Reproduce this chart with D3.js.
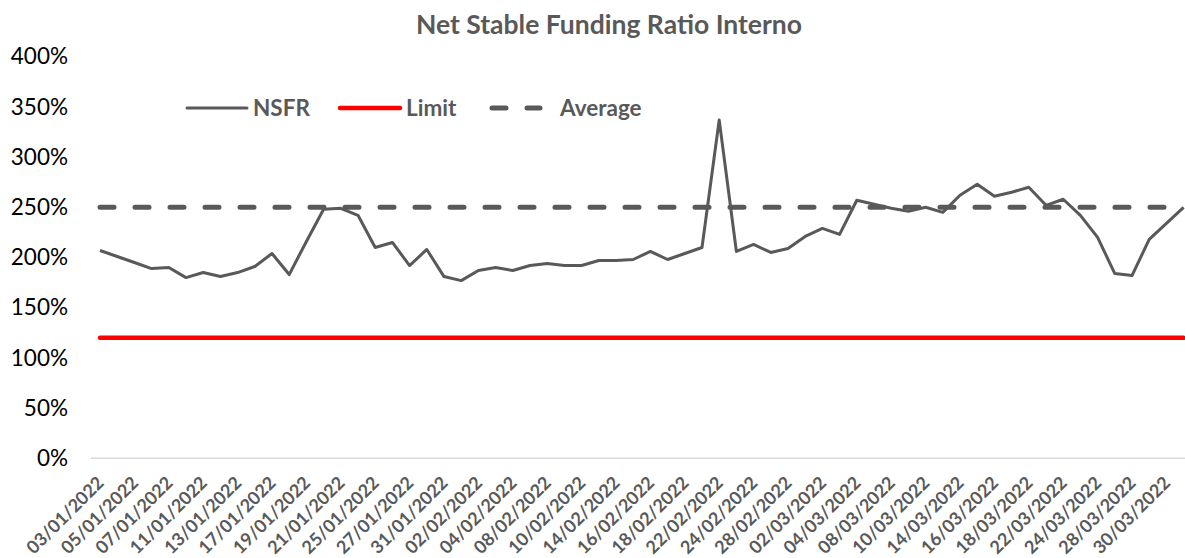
<!DOCTYPE html>
<html>
<head>
<meta charset="utf-8">
<script src="https://cdn.jsdelivr.net/npm/d3@7"></script>
<style>
  body { margin: 0; background: #fff; }
  svg { display: block; font-family: Lato, "Open Sans", sans-serif; }
</style>
</head>
<body>
<svg id="chart" width="1185" height="558"></svg>
<script>
var dates = [
  "03/01/2022", "04/01/2022", "05/01/2022", "06/01/2022", "07/01/2022", "10/01/2022",
  "11/01/2022", "12/01/2022", "13/01/2022", "14/01/2022", "17/01/2022", "18/01/2022",
  "19/01/2022", "20/01/2022", "21/01/2022", "24/01/2022", "25/01/2022", "26/01/2022",
  "27/01/2022", "28/01/2022", "31/01/2022", "01/02/2022", "02/02/2022", "03/02/2022",
  "04/02/2022", "07/02/2022", "08/02/2022", "09/02/2022", "10/02/2022", "11/02/2022",
  "14/02/2022", "15/02/2022", "16/02/2022", "17/02/2022", "18/02/2022", "21/02/2022",
  "22/02/2022", "23/02/2022", "24/02/2022", "25/02/2022", "28/02/2022", "01/03/2022",
  "02/03/2022", "03/03/2022", "04/03/2022", "07/03/2022", "08/03/2022", "09/03/2022",
  "10/03/2022", "11/03/2022", "14/03/2022", "15/03/2022", "16/03/2022", "17/03/2022",
  "18/03/2022", "21/03/2022", "22/03/2022", "23/03/2022", "24/03/2022", "25/03/2022",
  "28/03/2022", "29/03/2022", "30/03/2022", "31/03/2022"
];

// NSFR in %
var nsfr = [
  207, 201, 195, 189, 190, 180, 185, 181, 185, 191, 204, 183,
  216, 248, 249, 242, 210, 215, 192, 208, 181, 177, 187, 190,
  187, 192, 194, 192, 192, 197, 197, 198, 206, 198, 204, 210,
  337, 206, 213, 205, 209, 221, 229, 223, 257, 253, 249, 246,
  250, 245, 262, 273, 261, 265, 270, 252, 258, 242, 220, 184,
  182, 218, 234, 250
];
var limitValue = 120;
var averageValue = 250;

var yTicks = [0, 50, 100, 150, 200, 250, 300, 350, 400];

var svg = d3.select("#chart");
var grey = "#595959";

var x = d3.scalePoint().domain(dates).range([100, 1183.6]);
var y = d3.scaleLinear().domain([0, 400]).range([458.3, 56.7]);

// title
svg.append("text")
  .attr("x", 609)
  .attr("y", 34)
  .attr("text-anchor", "middle")
  .attr("font-size", 26.5)
  .attr("font-weight", "bold")
  .attr("fill", grey)
  .text("Net Stable Funding Ratio Interno");

// y axis labels
var yAxis = svg.append("g")
  .attr("transform", "translate(70,0)")
  .call(d3.axisLeft(y).tickValues(yTicks).tickSize(0).tickPadding(2)
    .tickFormat(function (d) { return d + "%"; }));
yAxis.select(".domain").remove();
yAxis.selectAll("text")
  .attr("font-family", "Lato, sans-serif")
  .attr("font-size", 22.5)
  .attr("fill", "#000");

// x axis line
svg.append("line")
  .attr("x1", 91).attr("x2", 1185)
  .attr("y1", y(0)).attr("y2", y(0))
  .attr("stroke", "#d9d9d9")
  .attr("stroke-width", 1.5);

// x labels, every other date
var labelDates = dates.filter(function (d, i) { return i % 2 === 0; });
svg.append("g").selectAll("text")
  .data(labelDates)
  .enter()
  .append("text")
  .attr("transform", function (d) { return "translate(" + (x(d) + 5) + ",484) rotate(-45)"; })
  .attr("text-anchor", "end")
  .attr("font-size", 18)
  .attr("font-weight", "bold")
  .attr("fill", grey)
  .text(function (d) { return d; });

// limit and average lines
var flat = function (v) {
  return d3.line()
    .x(function (d) { return x(d); })
    .y(function () { return y(v); });
};

svg.append("path")
  .datum(dates)
  .attr("d", flat(limitValue))
  .attr("fill", "none")
  .attr("stroke", "#ff0000")
  .attr("stroke-width", 4.5)
  .attr("stroke-linecap", "round");

svg.append("path")
  .datum(dates)
  .attr("d", flat(averageValue))
  .attr("fill", "none")
  .attr("stroke", grey)
  .attr("stroke-width", 5)
  .attr("stroke-linecap", "round")
  .attr("stroke-dasharray", "14,21");

// NSFR line
var line = d3.line()
  .x(function (d, i) { return x(dates[i]); })
  .y(function (d) { return y(d); });

svg.append("path")
  .datum(nsfr)
  .attr("d", line)
  .attr("fill", "none")
  .attr("stroke", grey)
  .attr("stroke-width", 3)
  .attr("stroke-linejoin", "round");

// legend
var legend = [
  { name: "NSFR", x: 185, color: grey, width: 3, dash: null },
  { name: "Limit", x: 338, color: "#ff0000", width: 4.5, dash: null },
  { name: "Average", x: 490, color: grey, width: 5, dash: "14,21" }
];
var items = svg.append("g").selectAll("g")
  .data(legend)
  .enter()
  .append("g")
  .attr("transform", function (d) { return "translate(" + d.x + ",108)"; });

items.append("line")
  .attr("x1", 2).attr("x2", function (d) { return d.name === "Average" ? 50 : 62; })
  .attr("stroke", function (d) { return d.color; })
  .attr("stroke-width", function (d) { return d.width; })
  .attr("stroke-linecap", "round")
  .attr("stroke-dasharray", function (d) { return d.dash; });

items.append("text")
  .attr("x", function (d) { return d.name === "Average" ? 70 : 68; })
  .attr("y", 8)
  .attr("font-size", 22.5)
  .attr("font-weight", "bold")
  .attr("fill", grey)
  .text(function (d) { return d.name; });
</script>
</body>
</html>
